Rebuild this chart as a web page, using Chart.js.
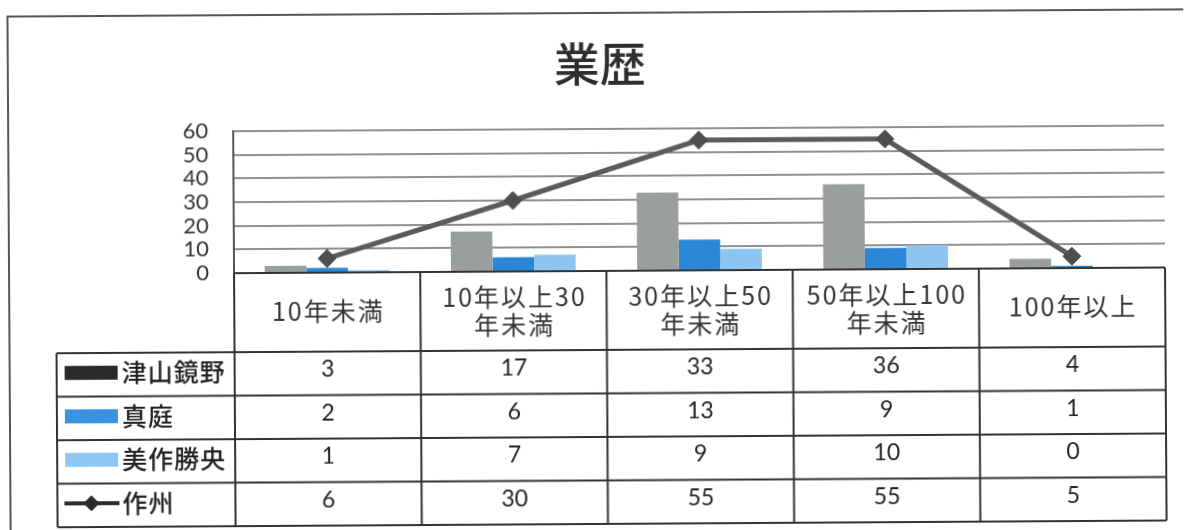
<!DOCTYPE html>
<html lang="ja">
<head>
<meta charset="utf-8">
<script src="https://cdn.jsdelivr.net/npm/chart.js@4/dist/chart.umd.min.js"></script>
<style>
  html, body { margin: 0; padding: 0; background: #fff; overflow: hidden; }
  #wrap { position: relative; width: 1185px; height: 530px; transform: rotate(-0.35deg); transform-origin: 592px 265px; }
  canvas { display: block; }
</style>
</head>
<body>
<div id="wrap"><canvas id="c" width="1185" height="530"></canvas></div>
<script>
// 業歴別の事業所数
const categories = [['10年未満'], ['10年以上30', '年未満'], ['30年以上50', '年未満'], ['50年以上100', '年未満'], ['100年以上']];
const seriesNames = ['津山鏡野', '真庭', '美作勝央', '作州'];
const tsuyamaKagamino = [3, 17, 33, 36, 4];
const maniwa = [2, 6, 13, 9, 1];
const mimasakaShoo = [1, 7, 9, 10, 0];
const sakushu = [6, 30, 55, 55, 5];
const yTicks = [0, 10, 20, 30, 40, 50, 60];

const JP = '"Noto Sans CJK JP", "Noto Sans", sans-serif';
const NUM = 'Lato, "Open Sans", sans-serif';

// 外枠
const framePlugin = {
  id: 'frame',
  beforeDraw(chart) {
    const ctx = chart.ctx;
    ctx.save();
    ctx.strokeStyle = '#555';
    ctx.lineWidth = 2;
    ctx.beginPath();
    ctx.moveTo(9, 540);
    ctx.lineTo(9, 13);
    ctx.lineTo(1200, 13);
    ctx.stroke();
    ctx.restore();
  }
};

// グラフ下のデータテーブル(凡例付き)
const tablePlugin = {
  id: 'dataTable',
  afterDraw(chart) {
    const { ctx, chartArea } = chart;
    const x = chart.scales.x;
    const half = (x.getPixelForValue(1) - x.getPixelForValue(0)) / 2;
    const top = chartArea.bottom;
    const headerBottom = top + 79;
    const rowH = 43.5;
    const legendLeft = 56;
    const rows = [tsuyamaKagamino, maniwa, mimasakaShoo, sakushu];
    const tableBottom = headerBottom + rowH * rows.length;
    const right = x.getPixelForValue(categories.length - 1) + half;

    ctx.save();
    ctx.strokeStyle = '#333';
    ctx.lineWidth = 2;
    ctx.beginPath();
    ctx.moveTo(chartArea.left, top); ctx.lineTo(right, top);
    for (let r = 0; r <= rows.length; r++) {
      const y = headerBottom + r * rowH;
      ctx.moveTo(legendLeft, y); ctx.lineTo(right, y);
    }
    ctx.moveTo(legendLeft, headerBottom); ctx.lineTo(legendLeft, tableBottom);
    for (let i = 0; i <= categories.length; i++) {
      const cx = x.getPixelForValue(i) - half;
      ctx.moveTo(cx, top); ctx.lineTo(cx, tableBottom);
    }
    ctx.stroke();

    // 見出し
    ctx.fillStyle = '#333';
    ctx.textAlign = 'center';
    ctx.textBaseline = 'middle';
    ctx.font = '25px ' + JP;
    ctx.letterSpacing = '2px';
    categories.forEach((lines, i) => {
      const cx = x.getPixelForValue(i) + 1;
      if (lines.length === 1) {
        ctx.fillText(lines[0], cx, top + 38);
      } else {
        ctx.fillText(lines[0], cx, top + 25);
        ctx.fillText(lines[1], cx, top + 53);
      }
    });
    ctx.letterSpacing = '0px';

    // 数値
    ctx.font = '23px ' + NUM;
    ctx.fillStyle = '#222';
    rows.forEach((vals, r) => {
      const cy = headerBottom + r * rowH + rowH / 2 - 4;
      vals.forEach((v, i) => ctx.fillText(String(v), x.getPixelForValue(i), cy));
    });

    // 凡例
    const swatch = ['#2b2b2b', '#3a92e2', '#8fc7f2'];
    ctx.textAlign = 'left';
    ctx.font = '500 25px ' + JP;
    ctx.letterSpacing = '1px';
    seriesNames.forEach((name, r) => {
      const cy = headerBottom + r * rowH + rowH / 2 - 2;
      if (r < 3) {
        ctx.fillStyle = swatch[r];
        ctx.fillRect(64, cy - 7, 53, 14);
      } else {
        ctx.strokeStyle = '#2b2b2b';
        ctx.lineWidth = 4;
        ctx.beginPath(); ctx.moveTo(63, cy); ctx.lineTo(118, cy); ctx.stroke();
        ctx.fillStyle = '#2b2b2b';
        ctx.beginPath();
        ctx.moveTo(90, cy - 8); ctx.lineTo(98, cy); ctx.lineTo(90, cy + 8); ctx.lineTo(82, cy);
        ctx.closePath(); ctx.fill();
      }
      ctx.fillStyle = '#222';
      ctx.fillText(name, 121, cy);
    });
    ctx.restore();
  }
};

new Chart(document.getElementById('c'), {
  data: {
    labels: categories,
    datasets: [
      { type: 'line', label: seriesNames[3], data: sakushu, order: 0,
        borderColor: '#5a5c5c', borderWidth: 5, tension: 0,
        pointStyle: 'rectRot', pointRadius: 9,
        pointBackgroundColor: '#4d4f4f', pointBorderColor: '#4d4f4f', pointBorderWidth: 1 },
      { type: 'bar', label: seriesNames[0], data: tsuyamaKagamino, order: 1, backgroundColor: '#9b9e9e' },
      { type: 'bar', label: seriesNames[1], data: maniwa, order: 1, backgroundColor: '#2b86d8' },
      { type: 'bar', label: seriesNames[2], data: mimasakaShoo, order: 1, backgroundColor: '#8dc5f0' }
    ]
  },
  options: {
    responsive: false,
    animation: false,
    layout: { padding: { left: 37, right: 20, top: 0, bottom: 259 } },
    datasets: { bar: { categoryPercentage: 0.67, barPercentage: 1 } },
    plugins: {
      legend: { display: false },
      tooltip: { enabled: false },
      title: {
        display: true, text: '業歴', color: '#2e2e2e',
        font: { family: JP, size: 46, weight: '500', lineHeight: 1 },
        padding: { top: 41, bottom: 42 }
      }
    },
    scales: {
      x: { display: false, offset: true },
      y: {
        min: 0, max: 60,
        afterFit(scale) { scale.width = 197; },
        afterBuildTicks(scale) { scale.ticks = yTicks.map(v => ({ value: v })); },
        ticks: { padding: 25, autoSkip: false, color: '#333', font: { family: NUM, size: 22 } },
        grid: { color: '#8f8f8f', lineWidth: 2, drawTicks: false },
        border: { display: true, color: '#555', width: 2 }
      }
    }
  },
  plugins: [framePlugin, tablePlugin]
});
</script>
</body>
</html>
